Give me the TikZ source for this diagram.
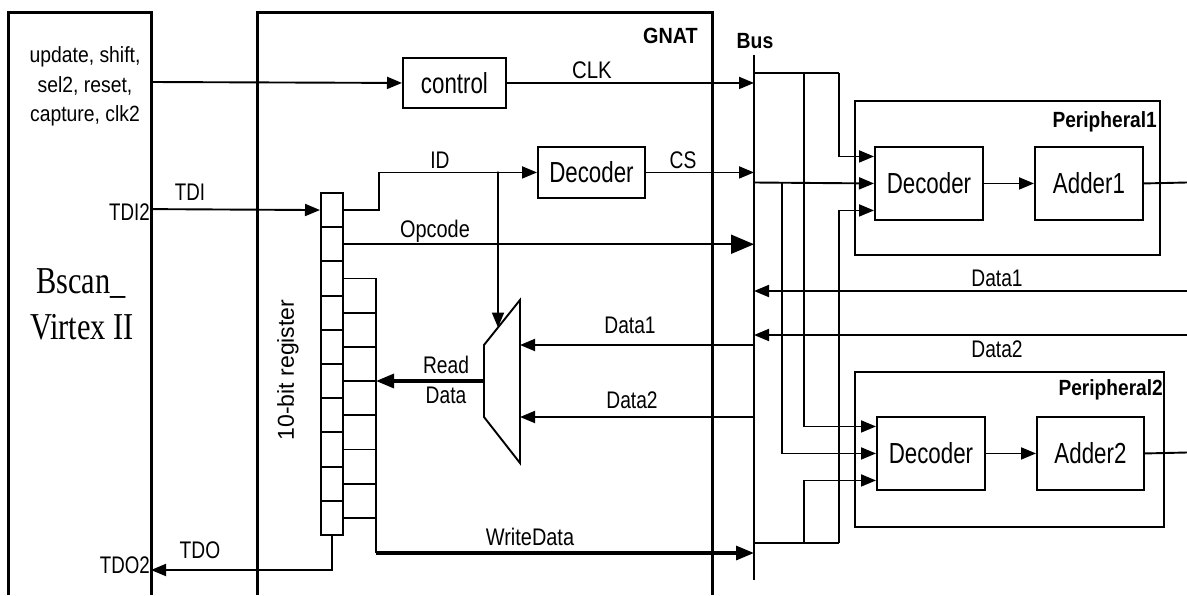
\documentclass[tikz,border=0pt]{standalone}
\usepackage{fontspec}
\setmainfont{Liberation Sans}
\newfontfamily\timesf{Liberation Serif}
\usepackage{graphicx}
\usetikzlibrary{arrows.meta,calc}
\newcommand\cnd[2]{\scalebox{#1}[1]{#2}}
\begin{document}
\begin{tikzpicture}[x=1pt,y=-1pt,
  wire/.style={line width=1.9pt},
  heavy/.style={line width=3.2pt},
  frame/.style={line width=3pt},
  arr/.style={-{Triangle[length=15pt,width=12pt]}},
  medarr/.style={-{Triangle[length=18pt,width=14pt]}},
  bigarr/.style={-{Triangle[length=23pt,width=19pt]}},
  blk/.style={draw,line width=1.9pt,inner sep=0pt,anchor=north west,font=\fontsize{29}{32}\selectfont},
  cell/.style={draw,line width=1.9pt,inner sep=0pt,anchor=north west,minimum width=22pt,minimum height=34.2pt},
  lbl/.style={anchor=base,inner sep=0pt,font=\fontsize{24}{27}\selectfont},
  sig/.style={anchor=base,inner sep=0pt,font=\fontsize{22}{25}\selectfont},
  bold/.style={inner sep=0pt,font=\bfseries\fontsize{22}{25}\selectfont},
  big/.style={anchor=base west,inner sep=0pt,font=\timesf\fontsize{38}{42}\selectfont}
]
\useasboundingbox (0,0) rectangle (1187,595);

% frames
\draw[frame] (8,595) -- (8,12) -- (151,12) -- (151,595);
\draw[frame] (257,595) -- (257,12) -- (712,12) -- (712,595);
\coordinate (busT) at (754,55);
\coordinate (busB) at (754,580);
\draw[line width=2.2pt] (busT) -- (busB);

% labels of frames
\node[big] (bs1) at (36,293) {\cnd{0.8}{Bscan\_}};
\node[big] (bs2) at (30,339) {\cnd{0.8}{Virtex II}};
\node[bold,anchor=base east] (gnat) at (698,43) {\cnd{0.9}{GNAT}};
\node[bold,anchor=base] (busl) at (755,48) {\cnd{0.88}{Bus}};

% input signal text
\node[sig] (u1) at (85,62) {\cnd{0.88}{update, shift,}};
\node[sig] (u2) at (85,92) {\cnd{0.88}{sel2, reset,}};
\node[sig] (u3) at (85,121) {\cnd{0.88}{capture, clk2}};

% boxes
\node[blk,minimum width=103pt,minimum height=50pt] (control) at (402,57) {\cnd{0.77}{control}};
\node[blk,minimum width=107pt,minimum height=51pt] (dec0) at (537,146) {\cnd{0.77}{Decoder}};
\node[draw,line width=1.9pt,inner sep=0pt,anchor=north west,minimum width=305pt,minimum height=154pt] (per1) at (854,100) {};
\node[draw,line width=1.9pt,inner sep=0pt,anchor=north west,minimum width=309pt,minimum height=155pt] (per2) at (854,371) {};
\node[bold,anchor=base east] (p1l) at (1157,127) {\cnd{0.87}{Peripheral1}};
\node[bold,anchor=base east] (p2l) at (1163,395) {\cnd{0.87}{Peripheral2}};
\node[blk,minimum width=108pt,minimum height=73pt] (dec1) at (874,146) {\cnd{0.77}{Decoder}};
\node[blk,minimum width=108pt,minimum height=73pt] (add1) at (1034,146) {\cnd{0.77}{Adder1}};
\node[blk,minimum width=108pt,minimum height=73pt] (dec2) at (876,416) {\cnd{0.77}{Decoder}};
\node[blk,minimum width=107pt,minimum height=73pt] (add2) at (1036,416) {\cnd{0.77}{Adder2}};

% register
\foreach \i in {0,...,9}{
  \node[cell] (r\i) at (320,{192+34.2*\i}) {};
}
\node[rotate=90,inner sep=0pt,font=\fontsize{23}{26}\selectfont] (regl) at (288,370) {10-bit register};

% mux
\coordinate (muxTL) at (484,345);
\coordinate (muxTR) at (520,300);
\coordinate (muxBR) at (520,463);
\coordinate (muxBL) at (484,417);
\coordinate (muxL) at (484,381);
\draw[line width=1.9pt] (muxTL) -- (muxTR) -- (muxBR) -- (muxBL) -- cycle;
\coordinate (muxtop) at ($(muxTL)!0.389!(muxTR)$);

% control path
\coordinate (ctlin) at (151,82);
\draw[wire,arr] (ctlin) -- (control.west);
\draw[wire,arr] (control.east) -- (control.east -| busT);
\node[lbl] (clkl) at (592,78) {\cnd{0.85}{CLK}};

% TDI
\coordinate (tdi2) at (151,209.1);
\draw[wire,arr] (tdi2) -- (r0.west);
\node[lbl] (tdil) at (190,200) {\cnd{0.78}{TDI}};
\node[lbl,anchor=base east] (tdi2l) at (150,220) {\cnd{0.78}{TDI2}};

% ID and decoder
\draw[wire,arr] (r0.east) -- ++(35,0) |- (dec0.west);
\node[lbl] (idl) at (440,168) {\cnd{0.8}{ID}};
\coordinate (idb) at (498,171.5);
\draw[wire,arr] (idb) -- (muxtop);
\draw[wire,arr] (dec0.east) -- (dec0.east -| busT);
\node[lbl] (csl) at (683,168) {\cnd{0.8}{CS}};

% opcode
\draw[wire,bigarr] (r1.east) -- (r1.east -| busT);
\node[lbl] (opl) at (435,237) {\cnd{0.83}{Opcode}};

% register stubs and write data
\coordinate (wtop) at (376,277.5);
\coordinate (wbot) at (376,553);
\foreach \i in {2,...,9}{
  \draw[wire] (r\i.east) -- (r\i.east -| wtop);
}
\draw[line width=2.2pt] (wtop) -- (wbot);
\draw[heavy,medarr] (wbot) -- (wbot -| busT);
\node[lbl] (wdl) at (530,545) {\cnd{0.83}{WriteData}};

% read data
\draw[heavy,medarr] (muxL) -- (muxL -| wtop);
\node[lbl] (rdl1) at (446,373) {\cnd{0.8}{Read}};
\node[lbl] (rdl2) at (446,403) {\cnd{0.8}{Data}};

% data to mux
\coordinate (d1b) at (754,345);
\coordinate (d2b) at (754,417);
\draw[wire,arr] (d1b) -- (d1b -| muxTR);
\draw[wire,arr] (d2b) -- (d2b -| muxTR);
\node[lbl] (d1l) at (630,333) {\cnd{0.8}{Data1}};
\node[lbl] (d2l) at (632,408) {\cnd{0.8}{Data2}};

% TDO
\coordinate (tdo2) at (151,570);
\draw[wire,arr] (r9.south) |- (tdo2);
\node[lbl] (tdol) at (200,558) {\cnd{0.8}{TDO}};
\node[lbl,anchor=base east] (tdo2l) at (150,573) {\cnd{0.78}{TDO2}};

% peripheral inputs
\coordinate (d1a) at ($(dec1.west)+(0,-27)$);
\coordinate (d1c) at ($(dec1.west)+(0,27)$);
\coordinate (d2a) at ($(dec2.west)+(0,-27)$);
\coordinate (d2c) at ($(dec2.west)+(0,27)$);
\coordinate (t1) at (754,73);
\coordinate (j1) at (839,73);
\coordinate (j2) at (804,73);
\coordinate (t2) at (754,182.5);
\coordinate (j3) at (782,182.5);
\coordinate (t3) at (754,543);
\coordinate (j4) at (839,543);
\coordinate (j5) at (804,543);
\draw[wire] (t1) -- (j1);
\draw[wire,arr] (j1) |- (d1a);
\draw[wire,arr] (j2) |- (d2a);
\draw[wire,arr] (t2) -- (dec1.west);
\draw[wire,arr] (j3) |- (dec2.west);
\draw[wire] (t3) -- (j4);
\draw[wire,arr] (j4) |- (d1c);
\draw[wire,arr] (j5) |- (d2c);

% inside peripherals
\coordinate (o1) at (1187,182.5);
\coordinate (o2) at (1187,452.5);
\draw[wire,arr] (dec1.east) -- (add1.west);
\draw[wire] (add1.east) -- (o1);
\draw[wire,arr] (dec2.east) -- (add2.west);
\draw[wire] (add2.east) -- (o2);

% data back to bus
\coordinate (rd1) at (1187,291);
\coordinate (rd2) at (1187,335);
\draw[wire,arr] (rd1) -- (rd1 -| busT);
\draw[wire,arr] (rd2) -- (rd2 -| busT);
\node[lbl] (rd1l) at (997,286) {\cnd{0.8}{Data1}};
\node[lbl] (rd2l) at (997,357) {\cnd{0.8}{Data2}};
\end{tikzpicture}
\end{document}
